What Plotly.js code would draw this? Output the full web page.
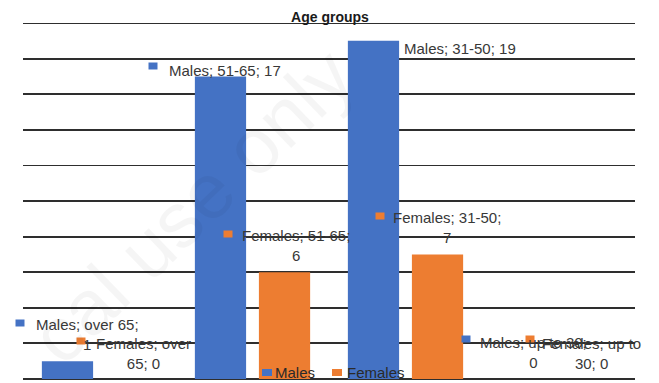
<!DOCTYPE html>
<html>
<head>
<meta charset="utf-8">
<script src="https://cdn.plot.ly/plotly-3.0.1.min.js"></script>
<style>
  html, body { margin: 0; padding: 0; background: #ffffff; }
  #chart { width: 659px; height: 383px; }
</style>
</head>
<body>
<div id="chart"></div>
<script>
// Age-group counts by sex
const categories = ['over 65', '51-65', '31-50', 'up to 30'];
const males = [1, 17, 19, 0];
const females = [0, 6, 7, 0];
const seriesNames = ['Males', 'Females'];
const chartTitle = 'Age groups';
const yMax = 20;

const BLUE = '#4472C4';
const ORANGE = '#ED7D31';
const TEXT = '#383838';
const GRID = '#2e2e2e';
const FONT = 'Liberation Sans, Arial, sans-serif';

// plot box in pixels
const W = 659, H = 383;
const PL = 23, PR = 635, PT = 23, PB = 379;
const px = x => (x - PL) / (PR - PL);
const py = y => (PB - y) / (PB - PT);

// data-label placement: [series, category index] -> text centre, key square centre, words on line 1
const labelPlacement = [
  { s: 0, c: 0, cx: 87,  cy: 334.5, kx: 20,  ky: 323, words: 3 },
  { s: 1, c: 0, cx: 143, cy: 353,   kx: 81,  ky: 341, words: 2 },
  { s: 0, c: 1, cx: 225, cy: 70,    kx: 153, ky: 66,  words: 99 },
  { s: 1, c: 1, cx: 296, cy: 246,   kx: 228, ky: 234, words: 2 },
  { s: 0, c: 2, cx: 460, cy: 49,    kx: 387, ky: 50,  words: 99, keyBelow: true },
  { s: 1, c: 2, cx: 447, cy: 227.5, kx: 380, ky: 216, words: 2 },
  { s: 0, c: 3, cx: 533, cy: 352.5, kx: 466, ky: 339, words: 4 },
  { s: 1, c: 3, cx: 591, cy: 353,   kx: 530, ky: 339, words: 3 }
];

const seriesValues = [males, females];
const seriesColors = [BLUE, ORANGE];

const traces = seriesNames.map((name, i) => ({
  type: 'bar',
  name: name,
  x: categories,
  y: seriesValues[i],
  marker: { color: seriesColors[i], line: { width: 0 } },
  hoverinfo: 'skip',
  showlegend: false
}));

const annotations = [];
const shapes = [];

// top gridline (the axis skips the tick sitting on the range edge)
shapes.push({
  type: 'line', xref: 'paper', yref: 'y', x0: 0, x1: 1, y0: yMax, y1: yMax,
  line: { color: GRID, width: 1.8 }, layer: 'below'
});

function keySquare(x, y, color, below) {
  shapes.push({
    type: 'rect', xref: 'paper', yref: 'paper',
    x0: px(x - 4.5), x1: px(x + 4.5), y0: py(y + 3.5), y1: py(y - 3.5),
    fillcolor: color, line: { width: 0 }, layer: below ? 'below' : 'above'
  });
}

// faint diagonal watermark
annotations.push({
  xref: 'paper', yref: 'paper', x: px(192), y: py(206),
  text: 'cal use only', showarrow: false, textangle: -44,
  font: { family: FONT, size: 78, color: 'rgba(0,0,0,0.04)' },
  xanchor: 'center', yanchor: 'middle'
});

labelPlacement.forEach(p => {
  const full = `${seriesNames[p.s]}; ${categories[p.c]}; ${seriesValues[p.s][p.c]}`;
  const parts = full.split(' ');
  const line1 = parts.slice(0, p.words).join(' ');
  const line2 = parts.slice(p.words).join(' ');
  const text = line2 ? line1 + '<br>' + line2 : line1;
  keySquare(p.kx, p.ky, seriesColors[p.s], p.keyBelow);
  annotations.push({
    xref: 'paper', yref: 'paper', x: px(p.cx), y: py(p.cy),
    text: text, showarrow: false, align: 'center',
    xanchor: 'center', yanchor: 'middle',
    font: { family: FONT, size: 15, color: TEXT }
  });
});

// legend row at the bottom of the plot
const legendItems = [
  { name: seriesNames[0], color: BLUE, kx: 267, tx: 273 },
  { name: seriesNames[1], color: ORANGE, kx: 337, tx: 345 }
];
legendItems.forEach(l => {
  shapes.push({
    type: 'rect', xref: 'paper', yref: 'paper',
    x0: px(l.kx - 5), x1: px(l.kx + 5), y0: py(376), y1: py(369),
    fillcolor: l.color, line: { width: 0 }, layer: 'above'
  });
  annotations.push({
    xref: 'paper', yref: 'paper', x: px(l.tx), y: py(372),
    text: l.name, showarrow: false, xanchor: 'left', yanchor: 'middle',
    font: { family: FONT, size: 15, color: '#2a2a2a' }
  });
});

const layout = {
  width: W, height: H,
  margin: { l: PL, r: W - PR, t: PT, b: H - PB, pad: 0 },
  paper_bgcolor: '#ffffff',
  plot_bgcolor: '#ffffff',
  title: {
    text: '<b>' + chartTitle + '</b>',
    x: 330 / W, xref: 'container', xanchor: 'center',
    y: 1 - 17 / H, yref: 'container', yanchor: 'middle',
    font: { family: FONT, size: 14, color: '#1a1a1a' }
  },
  barmode: 'group',
  bargap: 0.163,
  bargroupgap: 0.2,
  showlegend: false,
  xaxis: {
    type: 'category',
    showticklabels: false, ticks: '',
    showgrid: false, showline: false, zeroline: false,
    fixedrange: true
  },
  yaxis: {
    range: [0, yMax], dtick: 2, tick0: 0,
    showticklabels: false, ticks: '',
    showgrid: true, gridcolor: GRID, gridwidth: 1.8,
    zeroline: true, zerolinecolor: GRID, zerolinewidth: 1.8,
    showline: false, fixedrange: true
  },
  annotations: annotations,
  shapes: shapes
};

Plotly.newPlot('chart', traces, layout, { staticPlot: true, displayModeBar: false });
</script>
</body>
</html>
